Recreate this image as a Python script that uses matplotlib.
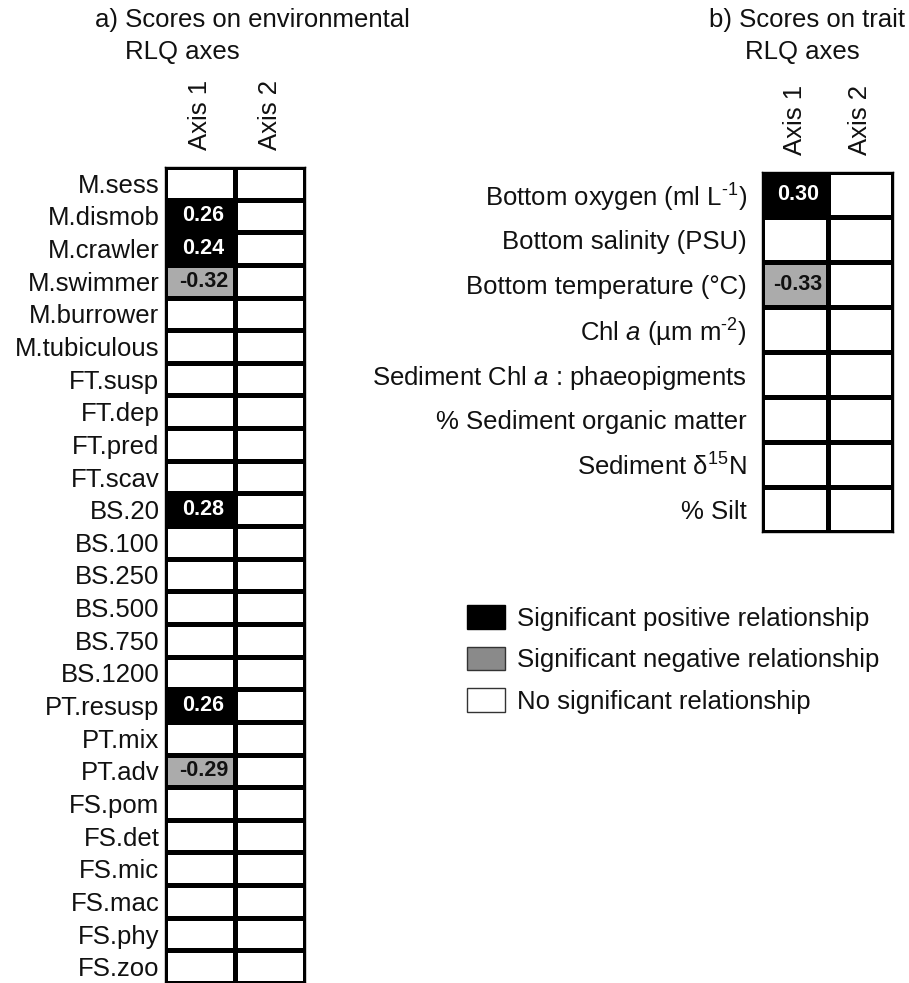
import matplotlib
matplotlib.use("Agg")
import matplotlib.pyplot as plt
import numpy as np
from matplotlib.colors import ListedColormap
from matplotlib.patches import Patch

plt.rcParams['font.family'] = ['Liberation Sans', 'DejaVu Sans']
plt.rcParams['mathtext.fontset'] = 'custom'
plt.rcParams['mathtext.rm'] = 'Liberation Sans'
plt.rcParams['mathtext.it'] = 'Liberation Sans:italic'

# Trait modalities (panel a) and their significant scores on RLQ axes
trait_rows = ['M.sess', 'M.dismob', 'M.crawler', 'M.swimmer', 'M.burrower',
              'M.tubiculous', 'FT.susp', 'FT.dep', 'FT.pred', 'FT.scav',
              'BS.20', 'BS.100', 'BS.250', 'BS.500', 'BS.750', 'BS.1200',
              'PT.resusp', 'PT.mix', 'PT.adv', 'FS.pom', 'FS.det', 'FS.mic',
              'FS.mac', 'FS.phy', 'FS.zoo']
trait_axis1 = [None, 0.26, 0.24, -0.32, None, None, None, None, None, None,
               0.28, None, None, None, None, None, 0.26, None, -0.29, None,
               None, None, None, None, None]
trait_axis2 = [None] * len(trait_rows)

# Environmental variables (panel b)
env_rows = ['Bottom oxygen (ml L$^{\\text{-1}}$)', 'Bottom salinity (PSU)',
            'Bottom temperature (°C)', 'Chl $a$ (µm m$^{\\text{-2}}$)',
            'Sediment Chl $a$ : phaeopigments', '% Sediment organic matter',
            'Sediment δ$^{15}$N', '% Silt']
env_axis1 = [0.30, None, -0.33, None, None, None, None, None]
env_axis2 = [None] * len(env_rows)

col_labels = ['Axis 1', 'Axis 2']
legend_labels = ['Significant positive relationship',
                 'Significant negative relationship',
                 'No significant relationship']

CELL_GREY = '#ababab'
INK = '#111111'
FS = 18.5


def score_grid(ax, rows, axis1, axis2, label_pad):
    vals = np.array([[np.nan if v is None else v for v in axis1],
                     [np.nan if v is None else v for v in axis2]]).T
    codes = np.where(np.isnan(vals), 0, np.where(vals > 0, 2, 1))
    cmap = ListedColormap(['white', CELL_GREY, 'black'])
    ax.pcolormesh(codes, cmap=cmap, vmin=-0.5, vmax=2.5,
                  edgecolors='black', linewidth=2.2)
    ax.set_xlim(0, 2)
    ax.set_ylim(len(rows), 0)
    for i in range(vals.shape[0]):
        for j in range(vals.shape[1]):
            v = vals[i, j]
            if np.isnan(v):
                continue
            ax.text(j + 0.55, i + 0.5, f'{v:.2f}', ha='center', va='center',
                    fontsize=15.5, fontweight='bold',
                    color='white' if v > 0 else INK)
    ax.set_yticks(np.arange(len(rows)) + 0.5)
    ax.set_yticklabels(rows, fontsize=FS, color=INK)
    ax.xaxis.tick_top()
    ax.set_xticks([0.5, 1.5])
    ax.set_xticklabels(col_labels, rotation=90, fontsize=FS, color=INK,
                       ha='center', va='bottom')
    ax.tick_params(axis='y', length=0, pad=label_pad)
    ax.tick_params(axis='x', length=0, pad=12)
    for s in ax.spines.values():
        s.set_linewidth(1.0)


W, H = 909, 983
fig = plt.figure(figsize=(W / 100, H / 100), dpi=100)

ax_a = fig.add_axes([165 / W, 0, 140 / W, (H - 167) / H])
score_grid(ax_a, trait_rows, trait_axis1, trait_axis2, 4)

ax_b = fig.add_axes([762 / W, (H - 532) / H, 131 / W, 360 / H])
score_grid(ax_b, env_rows, env_axis1, env_axis2, 11)

fig.text(95 / W, 1 - 8 / H, 'a) Scores on environmental', fontsize=FS,
         color=INK, ha='left', va='top')
fig.text(125 / W, 1 - 40 / H, 'RLQ axes', fontsize=FS, color=INK,
         ha='left', va='top')
fig.text(709 / W, 1 - 8 / H, 'b) Scores on trait', fontsize=FS,
         color=INK, ha='left', va='top')
fig.text(745 / W, 1 - 40 / H, 'RLQ axes', fontsize=FS, color=INK,
         ha='left', va='top')

handles = [Patch(facecolor='black', edgecolor='black'),
           Patch(facecolor='#8a8a8a', edgecolor='#333333'),
           Patch(facecolor='white', edgecolor='#333333')]
fig.legend(handles, legend_labels, loc='upper left',
           bbox_to_anchor=(467 / W, 1 - 605 / H), frameon=False,
           fontsize=FS, handlelength=1.48, handleheight=1.05,
           handletextpad=0.45, labelspacing=0.62, borderpad=0,
           borderaxespad=0, labelcolor=INK)

fig.savefig('out.png', dpi=100)
